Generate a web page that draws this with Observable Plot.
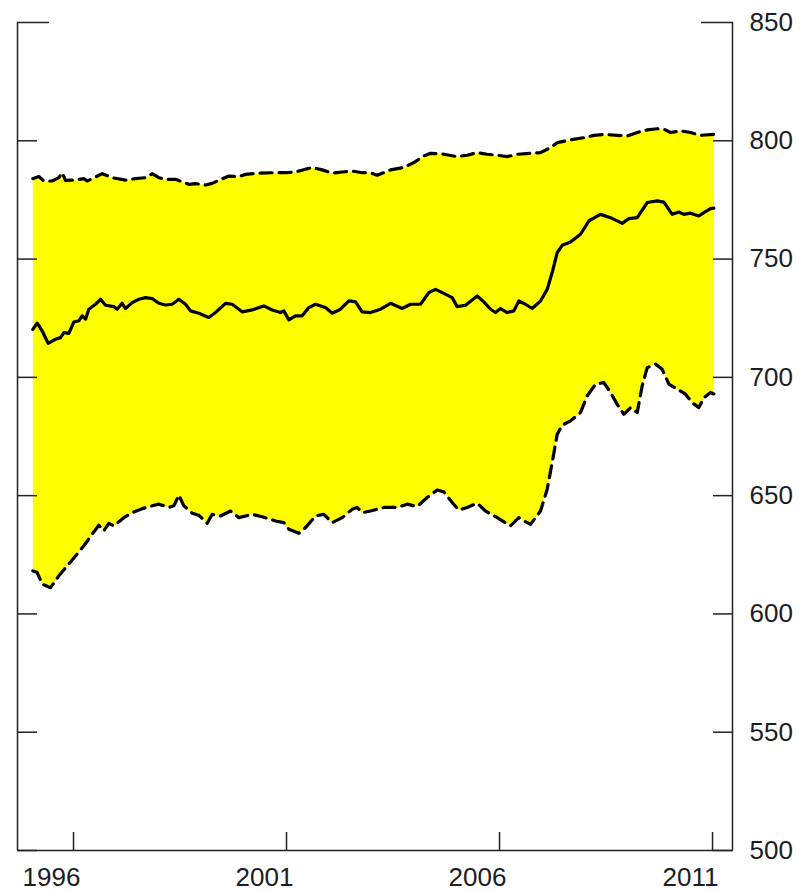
<!DOCTYPE html>
<html>
<head>
<meta charset="utf-8">
<script src="https://cdn.jsdelivr.net/npm/d3@7"></script>
<script src="https://cdn.jsdelivr.net/npm/@observablehq/plot@0.6"></script>
<style>
  html, body { margin: 0; padding: 0; background: #ffffff; }
  #chart svg { display: block; }
</style>
</head>
<body>
<div id="chart"></div>
<script>
// ---- Data ----
const upperYear = [1995.045,1995.186,1995.304,1995.499,1995.656,1995.734,1995.812,1996.047,1996.242,1996.321,1996.438,1996.673,1996.908,1997.221,1997.455,1997.690,1997.847,1998.003,1998.160,1998.394,1998.551,1998.707,1998.864,1999.099,1999.255,1999.412,1999.646,1999.881,2000.038,2000.350,2000.664,2000.977,2001.211,2001.446,2001.603,2001.837,2002.072,2002.307,2002.541,2002.776,2002.972,2003.128,2003.441,2003.754,2003.989,2004.224,2004.380,2004.693,2005.006,2005.241,2005.476,2005.710,2005.945,2006.180,2006.415,2006.728,2006.962,2007.197,2007.354,2007.667,2007.980,2008.214,2008.449,2008.762,2008.997,2009.232,2009.467,2009.702,2009.859,2010.015,2010.249,2010.484,2010.718,2011.031];
const upperValue = [784.0,784.9,783.0,783.0,784.4,786.5,783.3,783.4,784.0,783.0,784.0,786.1,784.4,783.4,784.0,784.4,786.1,784.4,783.7,783.7,782.7,781.6,781.9,781.3,782.0,783.3,785.1,784.9,785.8,786.3,786.5,786.5,786.8,788.0,788.7,787.7,786.3,786.8,787.2,786.5,786.5,785.4,787.7,788.7,790.8,793.6,794.7,794.3,793.3,793.9,795.0,794.3,793.9,793.3,794.3,794.7,795.0,797.1,799.2,800.4,801.3,802.3,802.7,802.3,802.0,803.5,804.6,805.1,804.9,803.5,804.2,803.5,802.3,802.7];

const midYear = [1995.045,1995.147,1995.265,1995.405,1995.577,1995.695,1995.773,1995.890,1996.008,1996.125,1996.203,1996.282,1996.360,1996.516,1996.634,1996.751,1996.947,1997.025,1997.142,1997.221,1997.377,1997.534,1997.690,1997.847,1998.003,1998.160,1998.316,1998.473,1998.629,1998.746,1998.942,1999.177,1999.333,1999.568,1999.725,1999.959,2000.194,2000.468,2000.664,2000.859,2000.937,2001.055,2001.211,2001.368,2001.524,2001.681,2001.915,2002.072,2002.268,2002.463,2002.620,2002.776,2002.972,2003.207,2003.441,2003.715,2003.911,2004.146,2004.341,2004.498,2004.693,2004.889,2005.006,2005.202,2005.476,2005.632,2005.789,2005.906,2006.023,2006.180,2006.336,2006.454,2006.610,2006.767,2006.962,2007.119,2007.236,2007.354,2007.471,2007.667,2007.901,2008.097,2008.371,2008.606,2008.880,2009.036,2009.232,2009.467,2009.702,2009.859,2010.054,2010.211,2010.328,2010.484,2010.679,2010.797,2010.953,2011.031];
const midValue = [720.3,722.9,719.6,714.4,716.1,716.8,718.9,718.6,723.4,723.9,726.0,724.6,728.8,730.9,733.0,730.5,729.9,728.8,731.3,729.1,731.6,733.0,733.7,733.3,731.3,730.6,730.9,733.0,730.9,728.1,727.1,725.3,727.4,731.3,730.9,727.7,728.5,730.2,728.5,727.4,728.1,724.3,726.0,726.0,729.5,730.9,729.5,727.1,728.8,732.3,731.9,727.7,727.4,728.8,731.3,729.1,730.9,730.9,735.8,737.2,735.5,733.7,729.9,730.5,734.4,731.9,728.8,727.4,729.1,727.4,728.1,732.3,730.9,729.1,732.3,737.2,744.3,752.7,755.8,757.2,760.5,766.1,768.9,767.5,765.1,767.1,767.5,773.9,774.6,774.1,768.9,769.9,768.9,769.4,768.2,769.6,771.3,771.5];

const lowerYear = [1995.045,1995.147,1995.265,1995.460,1995.656,1995.851,1996.047,1996.242,1996.438,1996.595,1996.712,1996.829,1996.947,1997.182,1997.377,1997.612,1997.847,1998.003,1998.238,1998.355,1998.473,1998.590,1998.786,1998.942,1999.138,1999.255,1999.451,1999.685,1999.881,2000.194,2000.429,2000.742,2000.937,2001.055,2001.290,2001.446,2001.681,2001.876,2002.072,2002.307,2002.541,2002.659,2002.776,2002.972,2003.285,2003.598,2003.833,2004.067,2004.302,2004.537,2004.693,2004.889,2005.045,2005.241,2005.476,2005.671,2005.945,2006.258,2006.454,2006.571,2006.728,2006.962,2007.119,2007.236,2007.354,2007.471,2007.667,2007.901,2008.058,2008.254,2008.449,2008.606,2008.762,2008.919,2009.075,2009.232,2009.349,2009.467,2009.662,2009.819,2009.976,2010.172,2010.366,2010.523,2010.679,2010.797,2010.953,2011.031];
const lowerValue = [618.2,617.5,612.6,611.1,616.1,620.3,624.5,628.8,633.7,637.5,635.1,638.3,637.2,640.7,642.8,644.5,645.7,646.4,645.0,645.7,650.2,645.7,642.6,641.7,638.3,642.1,641.4,643.5,640.7,642.1,641.1,639.3,638.6,635.8,634.1,636.5,641.4,642.1,638.6,640.7,644.2,645.0,642.8,643.5,645.0,645.0,646.4,645.4,649.2,652.4,651.6,647.1,643.9,645.0,646.8,643.5,640.7,637.2,640.7,639.3,637.9,643.5,652.7,664.0,675.9,679.8,681.6,685.1,692.2,697.1,697.8,693.6,688.6,684.4,687.2,685.1,696.4,704.1,705.6,703.4,697.1,695.0,692.9,689.3,687.2,691.4,693.6,693.0];

const xTicks = [1996, 2001, 2006, 2011];
const yTicks = [500, 550, 600, 650, 700, 750, 800];
const yTopTick = [850];
const yLabels = [500, 550, 600, 650, 700, 750, 800, 850];
const xDomain = [1994.685, 2011.469];
const yDomain = [500, 850];

// ---- Tables built from the arrays ----
const upper = upperYear.map((x, i) => ({x, y: upperValue[i]}));
const mid = midYear.map((x, i) => ({x, y: midValue[i]}));
const lower = lowerYear.map((x, i) => ({x, y: lowerValue[i]}));
const band = upper.concat(lower.slice().reverse());

const axisColor = "#222";
const textColor = "#1c1c24";

const chart = Plot.plot({
  width: 807,
  height: 892,
  marginLeft: 17,
  marginRight: 75,
  marginTop: 22,
  marginBottom: 42,
  style: {fontFamily: "'Liberation Sans', Arial, sans-serif", fontSize: "26px", background: "#ffffff", color: textColor},
  x: {domain: xDomain},
  y: {domain: yDomain},
  marks: [
    Plot.line(band, {x: "x", y: "y", fill: "#ffff00", stroke: "none"}),
    Plot.line(upper, {x: "x", y: "y", stroke: "#000", strokeWidth: 3.2, strokeDasharray: "12,7", strokeLinejoin: "round"}),
    Plot.line(lower, {x: "x", y: "y", stroke: "#000", strokeWidth: 3.2, strokeDasharray: "12,7", strokeLinejoin: "round"}),
    Plot.line(mid, {x: "x", y: "y", stroke: "#000", strokeWidth: 3.2, strokeLinejoin: "round"}),
    // frame lines (left, right, bottom)
    Plot.ruleX(xDomain, {stroke: axisColor, strokeWidth: 1.5}),
    Plot.ruleY([yDomain[0]], {stroke: axisColor, strokeWidth: 1.5}),
    // inward ticks
    Plot.axisY(yTicks, {anchor: "left", tickSize: -20, fill: "none", stroke: axisColor, strokeWidth: 1.5, label: null}),
    Plot.axisY(yTicks, {anchor: "right", tickSize: -20, fill: "none", stroke: axisColor, strokeWidth: 1.5, label: null}),
    Plot.axisY(yTopTick, {anchor: "left", tickSize: -32, fill: "none", stroke: axisColor, strokeWidth: 1.5, label: null}),
    Plot.axisY(yTopTick, {anchor: "right", tickSize: -32, fill: "none", stroke: axisColor, strokeWidth: 1.5, label: null}),
    Plot.axisX(xTicks, {anchor: "bottom", tickSize: -18, fill: "none", stroke: axisColor, strokeWidth: 1.5, label: null}),
    // labels
    Plot.axisY(yLabels, {anchor: "right", tickSize: 0, tickPadding: 17, tickFormat: d => String(d), fill: textColor, label: null}),
    Plot.axisX(xTicks, {anchor: "bottom", tickSize: 0, tickPadding: 17, dx: -22, tickFormat: d => String(d), fill: textColor, label: null})
  ]
});

document.getElementById("chart").appendChild(chart);
</script>
</body>
</html>
